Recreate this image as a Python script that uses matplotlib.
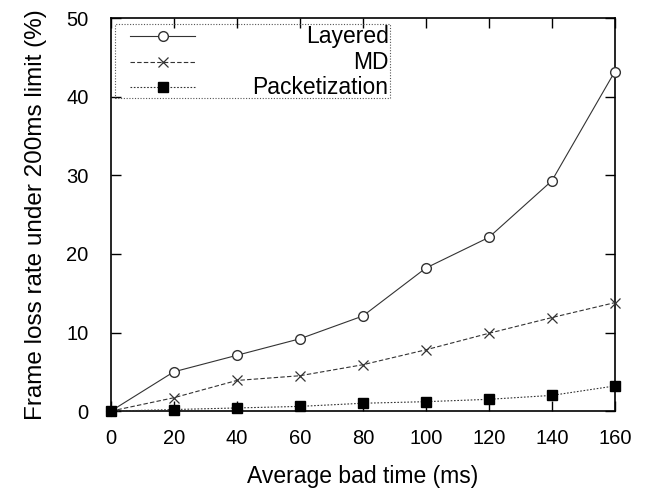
import matplotlib
matplotlib.use("Agg")
import matplotlib.pyplot as plt
from matplotlib.patches import Rectangle

plt.rcParams['font.family'] = ['Liberation Sans', 'DejaVu Sans']

# average bad time (ms) and frame loss rate (%) for each scheme
bad_time = [0, 20, 40, 60, 80, 100, 120, 140, 160]
layered = [0, 5.0, 7.1, 9.2, 12.1, 18.2, 22.1, 29.3, 43.2]
md = [0, 1.7, 3.9, 4.5, 5.9, 7.8, 9.9, 11.9, 13.8]
packetization = [0, 0.2, 0.4, 0.6, 1.0, 1.2, 1.5, 2.0, 3.2]

names = ["Layered", "MD", "Packetization"]
col = "#333333"

fig = plt.figure(figsize=(6.52, 4.90), dpi=100)
ax = fig.add_axes([0.170, 0.161, 0.773, 0.802])

styles = [
    dict(linestyle="-", marker="o", markerfacecolor="white", markersize=7),
    dict(linestyle=(0, (4, 2)), marker="x", markersize=7.5, markeredgewidth=0.9),
    dict(linestyle=(0, (1.5, 1.5)), marker="s", markerfacecolor="black",
         markeredgecolor="black", markersize=6.5),
]

for vals, st in zip([layered, md, packetization], styles):
    ax.plot(bad_time, vals, color=col, linewidth=0.8, clip_on=False, zorder=3, **st)

ax.set_xlim(0, 160)
ax.set_ylim(0, 50)
ax.set_xticks(range(0, 161, 20))
ax.set_yticks(range(0, 51, 10))
ax.tick_params(direction="in", length=7, width=1, top=True, right=True,
               labelsize=14.5)
ax.tick_params(axis="x", pad=13)
ax.tick_params(axis="y", pad=16)
for s in ax.spines.values():
    s.set_linewidth(1.2)

ax.set_xlabel("Average bad time (ms)", fontsize=16.5, labelpad=12)
ax.set_ylabel("Frame loss rate under 200ms limit (%)", fontsize=17.5, labelpad=14)

# legend box drawn by hand so the labels sit right-aligned
ax.add_patch(Rectangle((0.008, 0.796), 0.546, 0.189, transform=ax.transAxes,
                       fill=False, linestyle=(0, (1, 1.5)), linewidth=0.8,
                       edgecolor="#555555", zorder=4))
rows = [0.954, 0.888, 0.824]
for name, st, yy in zip(names, styles, rows):
    st2 = dict(st)
    mk = st2.pop("marker")
    ax.plot([0.038, 0.167], [yy, yy], transform=ax.transAxes, color=col,
            linewidth=0.8, linestyle=st2.pop("linestyle"))
    ax.plot([0.103], [yy], transform=ax.transAxes, color=col, marker=mk,
            linestyle="none", **st2)
    ax.text(0.551, yy, name, transform=ax.transAxes, ha="right", va="center",
            fontsize=16.5)

fig.savefig("out.png", dpi=100)
